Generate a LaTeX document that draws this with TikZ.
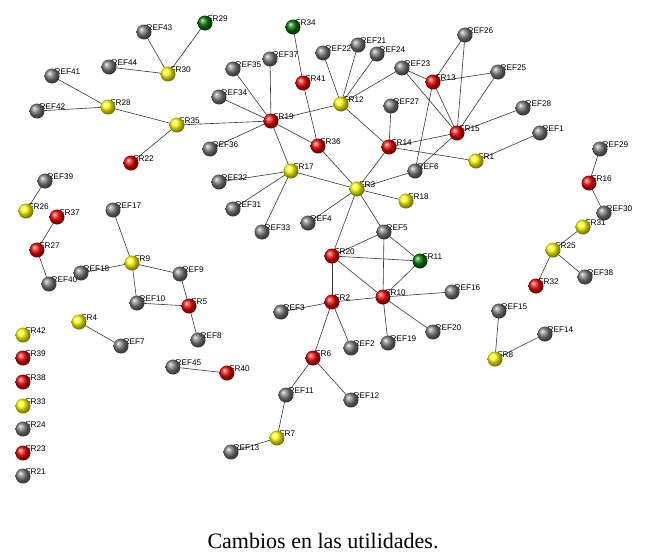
\documentclass[tikz,border=0pt]{standalone}
\usepackage{fontspec}
\setmainfont{Liberation Serif}
\newfontfamily\lblfont{Liberation Sans}
\pgfdeclarelayer{bglayer}
\pgfdeclarelayer{edgelayer}
\pgfdeclarelayer{lbllayer}
\pgfsetlayers{bglayer,edgelayer,lbllayer,main}
\tikzset{
  ballnd/.style={circle,minimum size=15pt,inner sep=0pt,shading=ball},
  gr/.style={ballnd,ball color=black!52},
  rd/.style={ballnd,ball color=red!92!black},
  yl/.style={ballnd,ball color=yellow},
  gn/.style={ballnd,ball color=green!45!black},
  lbl/.style={anchor=base west,inner sep=0pt,font=\lblfont\fontsize{8.2}{9}\selectfont},
  edge/.style={draw=black!78,line width=0.6pt}
}
\newcommand\bnode[5]{%
  \begin{pgfonlayer}{lbllayer}\node[lbl] at ({#2+2.5},{#3-1.5}) {#5};\end{pgfonlayer}
  \node[#4] (#1) at (#2,#3) {};}
\begin{document}
\begin{tikzpicture}[x=1pt,y=-1pt]
\useasboundingbox (0,0) rectangle (647,557);
\begin{pgfonlayer}{bglayer}\fill[white] (0,0) rectangle (647,557);\end{pgfonlayer}
\bnode{REF43}{144}{32}{gr}{REF43}
\bnode{FR29}{205}{23}{gn}{FR29}
\bnode{REF44}{109}{67}{gr}{REF44}
\bnode{FR30}{168}{74}{yl}{FR30}
\bnode{REF41}{52}{76}{gr}{REF41}
\bnode{FR28}{108}{107}{yl}{FR28}
\bnode{REF42}{37}{111}{gr}{REF42}
\bnode{FR35}{177}{125}{yl}{FR35}
\bnode{FR22}{131}{163}{rd}{FR22}
\bnode{FR34}{293}{27}{gn}{FR34}
\bnode{REF22}{323}{53}{gr}{REF22}
\bnode{REF21}{358}{45}{gr}{REF21}
\bnode{REF24}{377}{54}{gr}{REF24}
\bnode{REF37}{270}{59}{gr}{REF37}
\bnode{REF35}{233}{69}{gr}{REF35}
\bnode{FR41}{303}{83}{rd}{FR41}
\bnode{REF34}{219}{97}{gr}{REF34}
\bnode{FR12}{341}{104}{yl}{FR12}
\bnode{REF27}{391}{106}{gr}{REF27}
\bnode{FR19}{271}{121}{rd}{FR19}
\bnode{REF36}{210}{149}{gr}{REF36}
\bnode{FR36}{318}{146}{rd}{FR36}
\bnode{FR14}{389}{147}{rd}{FR14}
\bnode{FR17}{291}{171}{yl}{FR17}
\bnode{REF26}{465}{35}{gr}{REF26}
\bnode{REF23}{402}{68}{gr}{REF23}
\bnode{FR13}{433}{82}{rd}{FR13}
\bnode{REF25}{498}{72}{gr}{REF25}
\bnode{REF28}{523}{108}{gr}{REF28}
\bnode{FR15}{457}{133}{rd}{FR15}
\bnode{REF1}{540}{133}{gr}{REF1}
\bnode{FR1}{476}{161}{yl}{FR1}
\bnode{REF6}{415}{171}{gr}{REF6}
\bnode{REF29}{600}{149}{gr}{REF29}
\bnode{FR16}{589}{183}{rd}{FR16}
\bnode{REF30}{604}{213}{gr}{REF30}
\bnode{FR31}{583}{227}{yl}{FR31}
\bnode{FR25}{553}{250}{yl}{FR25}
\bnode{REF38}{585}{277}{gr}{REF38}
\bnode{FR32}{536}{286}{rd}{FR32}
\bnode{REF39}{45}{181}{gr}{REF39}
\bnode{FR26}{26}{211}{yl}{FR26}
\bnode{FR37}{57}{217}{rd}{FR37}
\bnode{REF17}{113}{210}{gr}{REF17}
\bnode{FR27}{37}{250}{rd}{FR27}
\bnode{FR9}{132}{263}{yl}{FR9}
\bnode{REF18}{81}{273}{gr}{REF18}
\bnode{REF9}{180}{274}{gr}{REF9}
\bnode{REF40}{49}{284}{gr}{REF40}
\bnode{REF10}{137}{303}{gr}{REF10}
\bnode{FR5}{189}{306}{rd}{FR5}
\bnode{FR4}{79}{322}{yl}{FR4}
\bnode{REF7}{121}{346}{gr}{REF7}
\bnode{REF32}{219}{182}{gr}{REF32}
\bnode{REF31}{233}{209}{gr}{REF31}
\bnode{REF33}{262}{232}{gr}{REF33}
\bnode{FR3}{357}{189}{yl}{FR3}
\bnode{FR18}{406}{201}{yl}{FR18}
\bnode{REF4}{308}{223}{gr}{REF4}
\bnode{REF5}{384}{232}{gr}{REF5}
\bnode{FR20}{332}{256}{rd}{FR20}
\bnode{FR11}{420}{261}{gn}{FR11}
\bnode{FR2}{332}{302}{rd}{FR2}
\bnode{FR10}{383}{297}{rd}{FR10}
\bnode{REF3}{281}{312}{gr}{REF3}
\bnode{REF16}{452}{292}{gr}{REF16}
\bnode{REF20}{433}{332}{gr}{REF20}
\bnode{REF2}{351}{348}{gr}{REF2}
\bnode{REF19}{388}{343}{gr}{REF19}
\bnode{FR6}{313}{358}{rd}{FR6}
\bnode{REF11}{286}{395}{gr}{REF11}
\bnode{REF12}{351}{400}{gr}{REF12}
\bnode{FR7}{277}{438}{yl}{FR7}
\bnode{REF13}{231}{452}{gr}{REF13}
\bnode{REF15}{499}{311}{gr}{REF15}
\bnode{REF14}{545}{334}{gr}{REF14}
\bnode{FR8}{495}{359}{yl}{FR8}
\bnode{FR42}{23}{335}{yl}{FR42}
\bnode{FR39}{23}{358}{rd}{FR39}
\bnode{FR38}{23}{382}{rd}{FR38}
\bnode{FR33}{23}{406}{yl}{FR33}
\bnode{FR24}{23}{429}{gr}{FR24}
\bnode{FR23}{23}{453}{rd}{FR23}
\bnode{FR21}{23}{476}{gr}{FR21}
\bnode{REF45}{173}{367}{gr}{REF45}
\bnode{FR40}{227}{373}{rd}{FR40}
\bnode{REF8}{198}{340}{gr}{REF8}
\begin{pgfonlayer}{edgelayer}
\foreach \a/\b in {REF43/FR30,FR29/FR30,REF44/FR30,REF41/FR28,REF42/FR28,FR28/FR35,
  FR35/FR22,FR35/FR19,FR34/FR41,FR41/FR36,REF37/FR19,REF35/FR19,REF34/FR19,REF36/FR19,
  FR19/FR12,FR19/FR36,FR19/FR17,REF22/FR12,REF21/FR12,REF24/FR12,REF23/FR12,FR12/FR14,
  REF27/FR14,FR14/FR15,FR14/FR1,FR14/FR3,FR36/FR3,FR17/FR3,REF23/FR13,REF23/FR15,
  FR13/REF26,FR13/REF25,FR13/FR15,FR13/REF6,REF26/FR15,REF25/FR15,REF28/FR15,FR15/REF6,
  REF1/FR1,REF6/FR3,FR3/FR18,FR3/REF4,FR3/FR20,FR3/REF5,FR17/REF32,FR17/REF31,FR17/REF33,
  REF5/FR20,REF5/FR11,REF5/FR10,FR20/FR11,FR20/FR10,FR20/FR2,FR11/FR10,FR10/FR2,
  FR10/REF16,FR10/REF20,FR10/REF19,FR2/REF3,FR2/REF2,FR2/FR6,FR6/REF11,FR6/REF12,
  REF11/FR7,FR7/REF13,REF45/FR40,REF39/FR26,FR37/FR27,FR27/REF40,REF17/FR9,REF18/FR9,
  FR9/REF9,FR9/REF10,REF9/FR5,REF10/FR5,FR5/REF8,FR4/REF7,REF29/FR16,FR16/REF30,
  FR31/FR25,FR25/REF38,FR25/FR32,REF15/FR8,FR8/REF14}
  \draw[edge] (\a.center) -- (\b.center);
\end{pgfonlayer}
\node[anchor=base,font=\fontsize{22}{26}\selectfont] (cap) at (323,548) {Cambios en las utilidades.};
\end{tikzpicture}
\end{document}
